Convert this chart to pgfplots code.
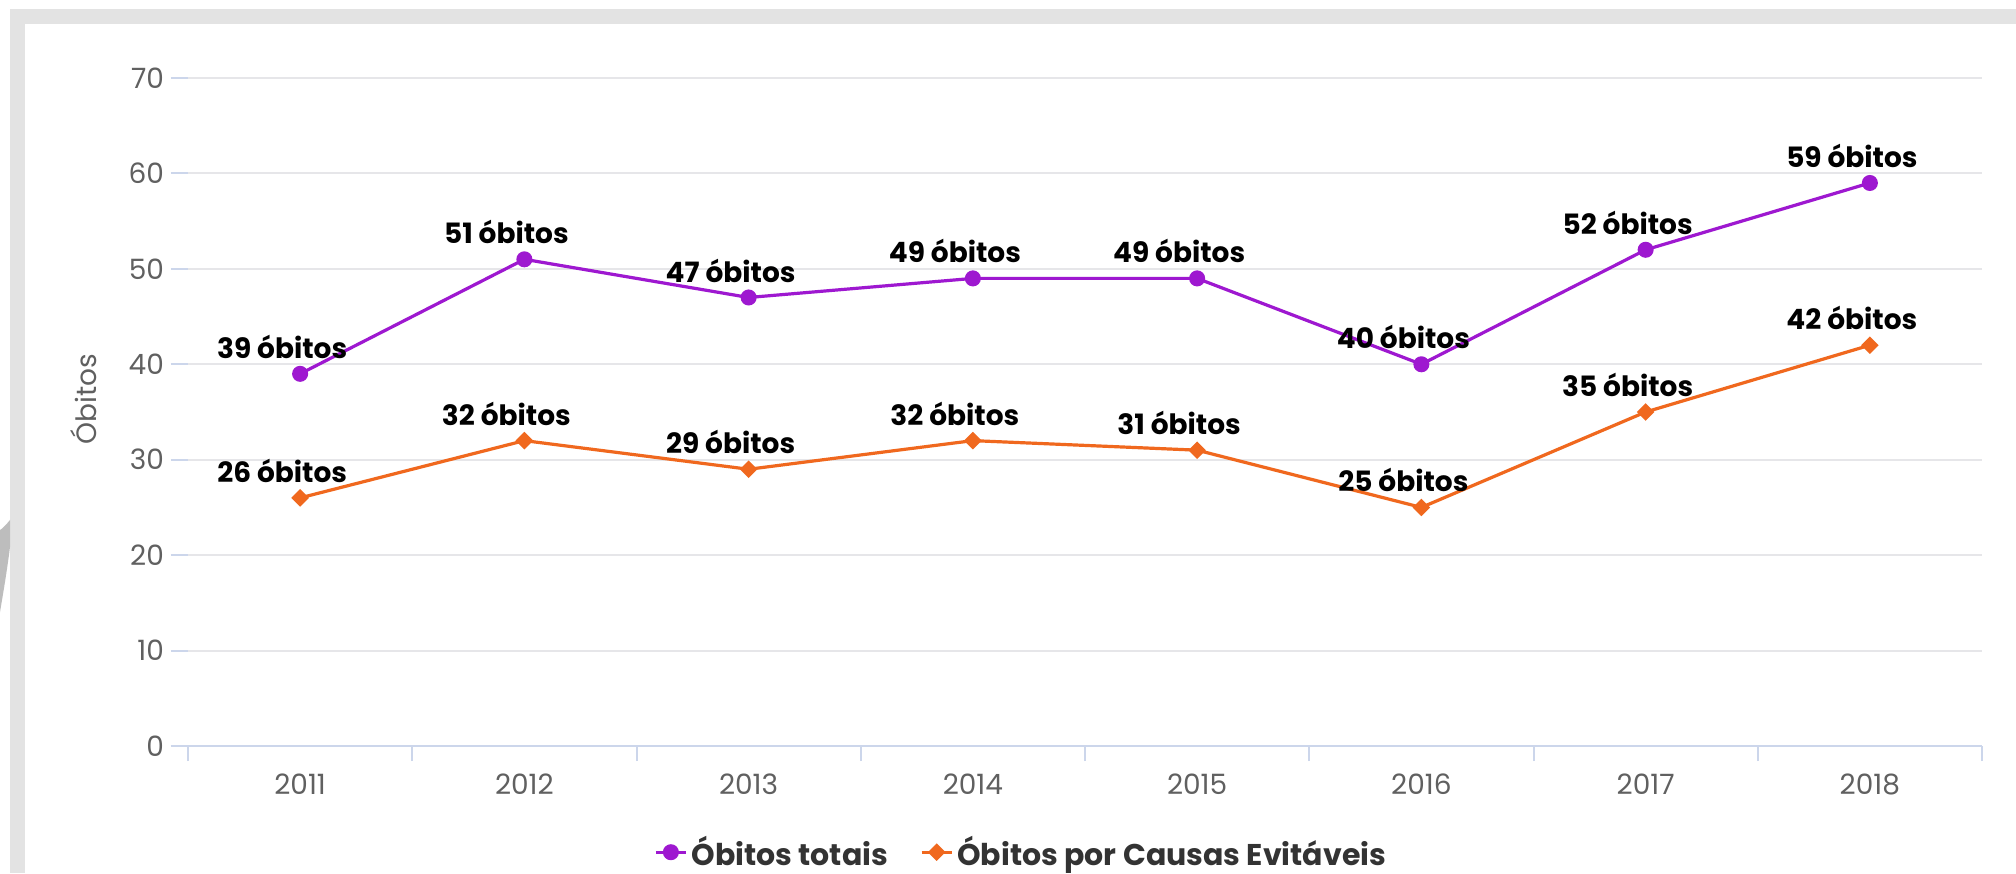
\documentclass[border=0pt]{standalone}
\usepackage{fontspec}
\setmainfont{Poppins}
\usepackage{pgfplots}
\pgfplotsset{compat=1.18}
\definecolor{cpurple}{RGB}{158,24,208}
\definecolor{corange}{RGB}{240,104,30}
\definecolor{cgrid}{RGB}{230,230,233}
\definecolor{caxis}{RGB}{204,214,235}
\definecolor{ctick}{RGB}{96,96,96}
\definecolor{cband}{RGB}{227,227,227}
\definecolor{cleg}{RGB}{51,51,51}
\begin{document}
\begin{tikzpicture}
\useasboundingbox (0,0) rectangle (1008pt,436.5pt);
\fill[white] (0,0) rectangle (1008pt,436.5pt);
\fill[cband] (5pt,424.5pt) rectangle (1008pt,432pt);
\fill[cband] (5pt,0pt) rectangle (12.5pt,432pt);
\fill[black!26] (0pt,130.5pt) .. controls (2.5pt,145pt) and (4pt,155pt) .. (5pt,163pt) -- (5pt,176.5pt) .. controls (3pt,174pt) and (1pt,172pt) .. (0pt,171.5pt) -- cycle;
\begin{axis}[
  at={(94pt,63.5pt)}, anchor=south west,
  scale only axis, width=897pt, height=334pt,
  xmin=-0.5, xmax=7.5, ymin=0, ymax=70,
  xtick={0,...,7},
  xticklabels={2011,2012,2013,2014,2015,2016,2017,2018},
  minor xtick={-0.5,0.5,...,7.5},
  ytick={0,10,...,70},
  tick pos=left,
  tick align=outside,
  major tick length=8.5pt,
  minor tick length=7.5pt,
  xtick style={draw=none},
  minor x tick style={draw=caxis, line width=1pt},
  ytick style={draw=caxis, line width=1pt},
  axis line style={draw=none},
  ymajorgrids=true,
  grid style={draw=cgrid, line width=1pt},
  extra y ticks={0},
  extra y tick labels={},
  extra y tick style={grid style={draw=caxis, line width=1pt}},
  /pgf/number format/assume math mode=true,
  ticklabel style={font=\fontsize{14}{16}\selectfont, text=ctick},
  xticklabel style={yshift=-2pt},
  ylabel={Óbitos},
  ylabel style={font=\fontsize{14}{16}\selectfont, text=ctick, at={(axis description cs:-0.058,0.5195)}, anchor=center},
  legend style={at={(0.465,-0.159)}, anchor=center, draw=none, fill=none,
    legend columns=2, font=\bfseries\fontsize{15}{17}\selectfont, text=cleg,
    /tikz/every even column/.append style={column sep=14pt}},
  legend image code/.code={\draw[mark repeat=2,mark phase=2] plot coordinates {(0pt,0pt) (7.5pt,0pt) (15pt,0pt)};},
  point meta=y,
  nodes near coords={\pgfmathprintnumber{\pgfplotspointmeta} óbitos},
  every node near coord/.append style={font=\bfseries\fontsize{14}{16}\selectfont, text=black, anchor=center, yshift=13.5pt, xshift=-9pt},
]
\addplot[color=cpurple, line width=1.6pt, mark=*, mark size=3.2pt] coordinates {
(0,39) (1,51) (2,47) (3,49) (4,49) (5,40) (6,52) (7,59)};
\addlegendentry{Óbitos totais}
\addplot[color=corange, line width=1.6pt, mark=square*, mark size=2.3pt, mark options={rotate=45}] coordinates {
(0,26) (1,32) (2,29) (3,32) (4,31) (5,25) (6,35) (7,42)};
\addlegendentry{Óbitos por Causas Evitáveis}
\end{axis}
\end{tikzpicture}
\end{document}
